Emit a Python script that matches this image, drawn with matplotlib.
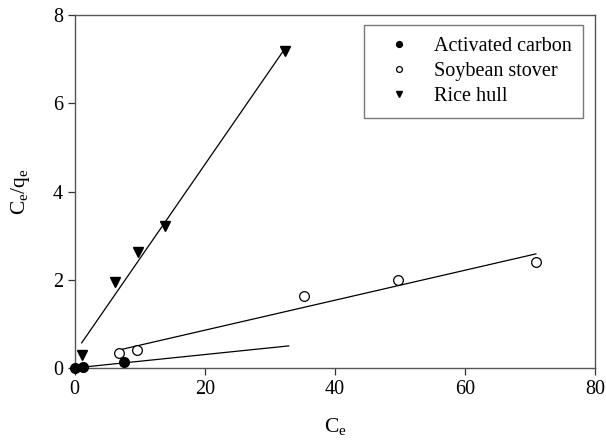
import numpy as np
import matplotlib
matplotlib.use("Agg")
import matplotlib.pyplot as plt

plt.rcParams['font.family'] = ['Liberation Serif', 'DejaVu Serif']
plt.rcParams['mathtext.fontset'] = 'custom'
plt.rcParams['mathtext.rm'] = 'Liberation Serif'

# measured points (Ce, Ce/qe)
ac_x = [0.05, 1.2, 7.6]
ac_y = [0.0, 0.02, 0.14]
soy_x = [6.8, 9.6, 35.3, 49.7, 70.9]
soy_y = [0.35, 0.41, 1.64, 2.0, 2.41]
rice_x = [1.1, 6.2, 9.7, 13.9, 32.3]
rice_y = [0.29, 1.96, 2.62, 3.23, 7.19]

# linear fits: slope, intercept, x range of drawn line
ac_fit = (0.0152, 0.0, [0.05, 32.9])
soy_fit = (0.034, 0.176, [7.2, 70.9])
rice_fit = (0.2136, 0.34, [1.07, 32.0])

fig = plt.figure(figsize=(6.06, 4.46), dpi=100)
ax = fig.add_axes([0.1233, 0.175, 0.8587, 0.791])

for fit in (ac_fit, soy_fit, rice_fit):
    xs = np.array(fit[2])
    ax.plot(xs, fit[0] * xs + fit[1], color='black', lw=0.9)

ax.plot(ac_x, ac_y, 'o', color='black', ms=7, clip_on=False, label='Activated carbon', zorder=3)
ax.plot(soy_x, soy_y, 'o', mfc='white', mec='black', mew=0.9, ms=7, clip_on=False, label='Soybean stover', zorder=3)
ax.plot(rice_x, rice_y, 'v', color='black', ms=7, clip_on=False, label='Rice hull', zorder=3)

ax.set_xlim(0, 80)
ax.set_ylim(0, 8)
ax.set_xticks([0, 20, 40, 60, 80])
ax.set_yticks([0, 2, 4, 6, 8])
ax.tick_params(direction='out', length=5, width=0.9, labelsize=14.5, top=False, right=False, colors='#333333', labelcolor='black')
for s in ax.spines.values():
    s.set_color('#555555')
    s.set_linewidth(1.0)

ax.set_xlabel(r'C$_\mathregular{e}$', fontsize=15.5, labelpad=13)
ax.set_ylabel(r'C$_\mathregular{e}$/q$_\mathregular{e}$', fontsize=15.5, labelpad=15)

leg = ax.legend(loc='upper right', bbox_to_anchor=(0.977, 0.972), borderaxespad=0, fontsize=14.5, markerscale=0.6,
                fancybox=False, edgecolor='#777777', framealpha=1, handlelength=2.35,
                handletextpad=0.55, labelspacing=0.3, borderpad=0.58)
leg.get_frame().set_linewidth(1.0)

fig.savefig('out.png', dpi=100)
